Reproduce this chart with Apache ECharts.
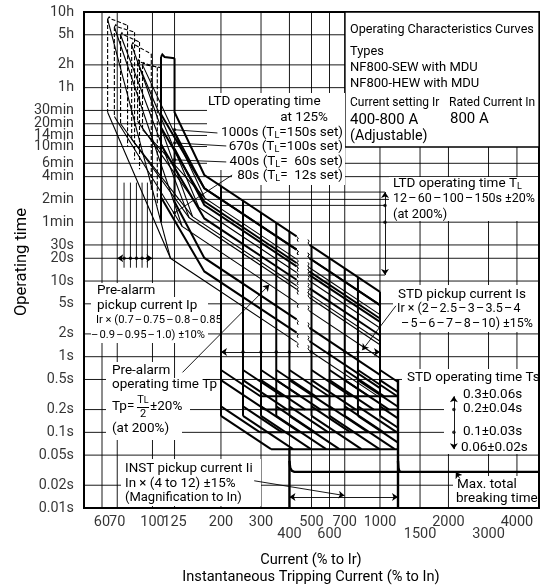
<!DOCTYPE html>
<html><head><meta charset="utf-8">
<script src="https://cdn.jsdelivr.net/npm/echarts@6.0.0/dist/echarts.min.js"></script>
<style>html,body{margin:0;padding:0;background:#fff}#c{width:545px;height:586px}</style>
</head><body><div id="c"></div>
<script>
// ---------- axis ticks ----------
const yTicks = [0.01,0.02,0.05,0.1,0.2,0.5,1,2,5,10,20,30,60,120,240,360,600,840,1200,1800,3600,7200,18000,36000];
const yTickLabels = ['0.01s','0.02s','0.05s','0.1s','0.2s','0.5s','1s','2s','5s','10s','20s','30s','1min','2min','4min','6min','10min','14min','20min','30min','1h','2h','5h','10h'];
const xTicks = [60,70,100,125,200,300,400,500,600,700,1000,1500,2000,3000,4000];
const xTickLabels = ['60','70','100','125','200','300','400','500','600','700','1000','1500','2000','3000','4000'];
const xTickRow = [0,0,0,0,0,0,1,0,1,0,0,1,0,1,0];

// ---------- LTD curves (current %, seconds) ----------
const ltdTL150max = [[[125,8800],[125,1700],[169,252],[430,38.9]],[[490,30.0],[1000,7.2]]];
const ltdTL150min = [[[109,9150],[109,1600],[169,168],[430,26.0]],[[490,20.0],[1000,4.8]]];
const ltdTL100max = [[[125,930],[169,168],[430,26.0]],[[490,20.0],[1000,4.8]]];
const ltdTL100min = [[[109,1070],[169,112],[430,17.3]],[[490,13.3],[1000,3.2]]];
const ltdTL60max  = [[[125,560],[169,101],[430,15.6]],[[490,12.0],[1000,2.88]]];
const ltdTL60min  = [[[109,640],[169,67.2],[430,10.4]],[[490,8.0],[1000,1.92]]];
const ltdTL12max  = [[[125,112],[169,20.2],[430,3.11]],[[490,2.40],[1000,0.576]]];
const ltdTL12min  = [[[109,128],[169,13.4],[430,2.08]],[[490,1.60],[1000,0.384]]];
const ltdVerticals = [[[109,9150],[109,60]],[[125,560],[125,112]]];
const ltdBoxTop = [[109,9150],[110.5,9900],[113,9150],[125,8800]];

// ---------- pre-alarm curves ----------
const preAlarm1 = [[[63.5,1700],[120,20.0],[430,1.557]],[[490,1.20],[1000,0.288]]];
const preAlarm2 = [[[68,1500],[135,52.7],[430,5.19]],[[490,4.0],[1000,0.96]]];
const preAlarm3 = [[[72.4,1200],[145,68.5],[430,7.79]],[[490,6.0],[1000,1.44]]];
const preAlarm4 = [[[81,750],[150,71.1],[430,8.65]],[[490,6.66],[1000,1.6]]];
const preAlarm5 = [[[86,1300],[160,93.8],[430,12.98]],[[490,10.0],[1000,2.4]]];
const preAlarm6 = [[[90.4,1000],[170,124.6],[430,19.47]],[[490,15.0],[1000,3.6]]];
const preAlarmTopLines = [
  [[63.5,29000],[120,20.0]], [[68,22800],[135,52.7]], [[72.4,17900],[145,68.5]],
  [[81,13200],[150,71.1]], [[86,7800],[160,93.8]], [[90.4,7200],[170,124.6]]
];
const preAlarmBoxTops = [
  [[63.5,29000],[64.5,31000],[66,29000],[77.7,24000]],
  [[68,22800],[69,24500],[70.5,22800],[83.4,19500]],
  [[72.4,17900],[73.4,19200],[75,17900],[87.7,14400]],
  [[81,13200],[82,14200],[84,13200],[98.8,10000]],
  [[86,7800],[87,8400],[89,7800],[105,6700]],
  [[90.4,7200],[91.5,7700],[93.5,7200],[109.5,6600]]
];
const preAlarmLeftX = [63.5,68,72.4,81,86,90.4];
const preAlarmLeftTop = [29000,22800,17900,13200,7800,7200];
const preAlarmLeftBottom = [1700,1500,1200,750,1300,1000];
const preAlarmRightX = [77.7,83.4,87.7,98.8,105,109.5];
const preAlarmRightTop = [24000,19500,14400,10000,6700,6600];
const preAlarmRightBottom = [600,400,300,150,100,60];
const preAlarmPickups = [70,75,80,85,90,95,100];

// ---------- STD ----------
const stdPickups = [200,250,300,350,400,500,600,700,800,1000];
const stdVerticalTop = [180,115,80,58.8,45,28.8,20,14.7,11.25,7.2];
const stdVerticalBottom = 0.165;
const stdRamps = [
  [200,.667,298,.3],[200,.49,313,.2],[200,.22,297,.1],[200,.165,332,.06],
  [250,.667,373,.3],[250,.49,391,.2],[250,.22,371,.1],[250,.165,415,.06],
  [300,.667,447,.3],[300,.49,470,.2],[300,.22,445,.1],[300,.165,497,.06],
  [350,.667,522,.3],[350,.49,548,.2],[350,.22,519,.1],[350,.165,580,.06],
  [400,.667,596,.3],[400,.49,626,.2],[400,.22,593,.1],[400,.165,663,.06],
  [500,.667,745,.3],[500,.49,783,.2],[500,.22,742,.1],[500,.165,829,.06],
  [600,.667,894,.3],[600,.49,939,.2],[600,.22,890,.1],[600,.165,995,.06],
  [700,.667,1043,.3],[700,.49,1096,.2],[700,.22,1038,.1],[700,.165,1161,.06],
  [800,.667,1192,.3],[800,.49,1200,.218],[800,.22,1187,.1],[800,.165,1200,.0733],
  [1000,.667,1200,.463],[1000,.49,1200,.34],[1000,.22,1200,.153],[1000,.165,1200,.115]
];
const stdLevelStart = [298,313,297,332];
const stdLevelTime = [0.3,0.2,0.1,0.06];
const stdRightEdge = 1200;

// ---------- INST ----------
const instLeft = [[400,0.062],[400,0.01]];
const instRight = [[1200,0.5],[1200,0.01]];
const maxBreaking = [[400,0.042],[403,0.034],[410,0.031],[420,0.03],[5000,0.03]];
const instRightCorner = [[1200,0.042],[1205,0.034],[1215,0.031],[1232,0.03]];

// ---------- annotation anchors ----------
const ltdDots = [[125,1000],[125,670],[125,400],[125,80]];
const ltdLeaderEnds = [[193,906],[211,610],[211,375],[224,252]];
const tlArrow = [[1052,150],[1052,12]];
const tlDots = [[1052,100],[1052,60]];
const tlRefLines = [[[200,150],[1052,150]],[[200,100],[1052,100]],[[200,12],[1052,12]]];
const preAlarmArrow = [[70,20],[100,20]];
const preAlarmDots = [[75,20],[80,20],[85,20],[90,20],[95,20]];
const preAlarmOpLeader = [[135.5,0.62],[326,8.9]];
const stdPickArrow = [[200,1.15],[1000,1.15]];
const stdPickLeader = [[1175,4.7],[836,1.22]];
const stdTimeArrow = [[2112,0.3],[2112,0.06]];
const stdTimeDots = [[2112,0.2],[2112,0.1]];
const instArrow = [[400,0.014],[1200,0.014]];
const instLeader = [[280,0.0229],[698,0.0146]];
const maxLeader = [[2244,0.0245],[2154,0.0298]];
const breakLeftI = 430, breakRightI = 490;

const FONT = 'Roboto, "Noto Sans", sans-serif';

function L(polys, width, z, extra) {
  return Object.assign({
    type: 'lines', coordinateSystem: 'cartesian2d', polyline: true, silent: true,
    animation: false, z: z,
    lineStyle: {color: '#000', width: width, opacity: 1, type: 'solid', curveness: 0},
    data: polys.map(c => ({coords: c}))
  }, extra || {});
}
function A(pairs, sym, z) {
  return {
    type: 'lines', coordinateSystem: 'cartesian2d', polyline: false, silent: true,
    animation: false, z: z || 16, symbol: sym, symbolSize: 6,
    lineStyle: {color: '#000', width: 0.9, opacity: 1, curveness: 0},
    data: pairs.map(c => ({coords: c}))
  };
}

const gridPolys = [];
yTicks.slice(1, -1).forEach(v => gridPolys.push([[50, v], [5000, v]]));
xTicks.forEach(v => gridPolys.push([[v, 0.01], [v, 36000]]));

const ltdSets = [ltdTL150max, ltdTL150min, ltdTL100max, ltdTL100min, ltdTL60max, ltdTL60min, ltdTL12max, ltdTL12min];
const paSets = [preAlarm1, preAlarm2, preAlarm3, preAlarm4, preAlarm5, preAlarm6];
const ltdPolys = [].concat(...ltdSets, ltdVerticals, [ltdBoxTop]);
const paPolys = [].concat(...paSets, preAlarmTopLines);
const paDashed = preAlarmBoxTops.slice();
preAlarmLeftX.forEach((x, i) => paDashed.push([[x, preAlarmLeftTop[i]], [x, preAlarmLeftBottom[i]]]));
preAlarmRightX.forEach((x, i) => paDashed.push([[x, preAlarmRightTop[i]], [x, preAlarmRightBottom[i]]]));
const paTicks = preAlarmPickups.slice(1, -1).map(x => [[x, 200], [x, 15]]);

// small break hooks at the curve gaps (decoration at the ends of the read curves)
const hookPolys = [];
ltdSets.concat(paSets).forEach(s => {
  const a = s[0][s[0].length - 1], b = s[1][0];
  hookPolys.push([[a[0], a[1]], [a[0] * 1.018, a[1] * 0.95], [a[0] * 1.006, a[1] * 0.9], [a[0] * 1.016, a[1] * 0.85]]);
  hookPolys.push([[b[0], b[1]], [b[0] * 0.985, b[1] * 1.06], [b[0] * 0.996, b[1] * 1.12], [b[0] * 0.984, b[1] * 1.18]]);
});

const stdPolys = [];
stdPickups.forEach((x, i) => stdPolys.push([[x, stdVerticalTop[i]], [x, stdVerticalBottom]]));
stdRamps.forEach(r => stdPolys.push([[r[0], r[1]], [r[2], r[3]]]));
stdLevelTime.forEach((t, i) => stdPolys.push([[stdLevelStart[i], t], [stdRightEdge, t]]));

const instPolys = [instLeft, instRight, maxBreaking, instRightCorner];
const leaderPolys = ltdDots.map((d, i) => [d, ltdLeaderEnds[i]]).concat(tlRefLines, paTicks);
const allDots = [].concat(ltdDots, tlDots, preAlarmDots, stdTimeDots,
  stdPickups.slice(1, -1).map(x => [x, 1.15]));

// ---------- graphic (texts / white boxes) ----------
const G = [];
function rect(x, y, w, h, stroke) {
  G.push({type: 'rect', z: 15, silent: true, shape: {x: x, y: y, width: w, height: h},
    style: {fill: '#fff', stroke: stroke ? '#000' : null, lineWidth: stroke ? 1.3 : 0}});
}
function txt(x, y, s, size, align, rich) {
  G.push({type: 'text', z: 20, silent: true, x: x, y: y,
    style: {text: s, fontSize: size, fontFamily: FONT, fill: '#000',
      align: align || 'left', verticalAlign: 'middle', rich: rich || {}}});
}
const SUB = {s: {fontSize: 9, fontFamily: FONT, verticalAlign: 'bottom'}};
const D = '\u200a\u2013\u200a';

rect(345, 12, 194, 135, true);
rect(207, 93, 138, 77); rect(232, 169, 113, 16);
rect(389, 177, 149, 44);
rect(93, 283, 66, 14); rect(91, 297, 117, 46);
rect(106, 362, 62, 16); rect(106, 378, 100, 14); rect(106, 392, 84, 28); rect(106, 420, 76, 20);
rect(121, 459, 140, 47);
rect(393, 285, 145, 47);
rect(402, 369, 136, 18); rect(444, 387, 94, 67);
rect(453, 476, 85, 31);

txt(350, 30, 'Operating Characteristics Curves', 12.6);
txt(350, 52, 'Types', 12.8);
txt(350, 68, 'NF800-SEW with MDU', 13);
txt(350, 84, 'NF800-HEW with MDU', 13);
txt(350, 103, 'Current setting Ir', 12);
txt(449, 103, 'Rated Current In', 12);
txt(350, 120, '400-800 A', 15);
txt(450, 119, '800 A', 15);
txt(350, 136, '(Adjustable)', 14.3);

txt(208, 102, 'LTD operating time', 13.5);
txt(328, 118, 'at 125%', 13.5, 'right');
txt(343, 133, '1000s (T{s|L}=150s set)', 13.5, 'right', SUB);
txt(343, 147, '670s (T{s|L}=100s set)', 13.5, 'right', SUB);
txt(343, 162, '400s (T{s|L}=  60s set)', 13.5, 'right', SUB);
txt(343, 176, '80s (T{s|L}=  12s set)', 13.5, 'right', SUB);

txt(393, 184, 'LTD operating time T{s|L}', 13.5, 'left', SUB);
txt(393, 199, '12' + D + '60' + D + '100' + D + '150s \u00b120%', 12.5);
txt(393, 215, '(at 200%)', 12.8);

txt(97, 291, 'Pre-alarm', 13.5);
txt(97, 306, 'pickup current Ip', 13.5);
txt(96, 320, 'Ir \u00d7 (0.7' + D + '0.75' + D + '0.8' + D + '0.85', 11.2);
txt(91, 335, '\u2013\u200a0.9' + D + '0.95' + D + '1.0) \u00b110%', 11.2);

txt(112, 371, 'Pre-alarm', 13.5);
txt(112, 385, 'operating time Tp', 13.5);
txt(112, 407, 'Tp=', 13.5);
txt(143, 400, 'T{s|L}', 11, 'center', SUB);
G.push({type: 'line', z: 20, silent: true, shape: {x1: 137, y1: 407.5, x2: 149, y2: 407.5}, style: {stroke: '#000', lineWidth: 1}});
txt(143, 414, '2', 11, 'center');
txt(150, 407, '\u00b120%', 13.5);
txt(112, 429, '(at 200%)', 13.5);

txt(125, 469, 'INST pickup current Ii', 13.4);
txt(125, 484, 'In \u00d7 (4 to 12) \u00b115%', 13.4);
txt(125, 498, '(Magnification to In)', 13);

txt(398, 295, 'STD pickup current Is', 13.5);
txt(397, 309, 'Ir \u00d7 (2' + D + '2.5' + D + '3' + D + '3.5' + D + '4', 12.5);
txt(401, 324, '\u2013\u200a5' + D + '6' + D + '7' + D + '8' + D + '10) \u00b115%', 12.5);

txt(407, 378, 'STD operating time Ts', 13.5);
txt(463, 395, '0.3\u00b10.06s', 13.5);
txt(463, 409, '0.2\u00b10.04s', 13.5);
txt(463, 432, '0.1\u00b10.03s', 13.5);
txt(461, 448, '0.06\u00b10.02s', 13.5);

txt(457, 485, 'Max. total', 13.5);
txt(456, 499, 'breaking time', 13.5);

G.push({type: 'text', z: 20, silent: true, x: 22, y: 262, rotation: Math.PI / 2,
  style: {text: 'Operating time', fontSize: 16.5, fontFamily: FONT, fill: '#000', align: 'center', verticalAlign: 'middle'}});
txt(311, 560, 'Current (% to Ir)', 14.6, 'center');
txt(311, 577, 'Instantaneous Tripping Current (% to In)', 14.6, 'center');

const chart = echarts.init(document.getElementById('c'), null, {renderer: 'canvas'});
chart.setOption({
  animation: false,
  backgroundColor: '#fff',
  grid: {left: 84, right: 6, top: 12, bottom: 78, show: true, borderColor: '#000', borderWidth: 2, backgroundColor: 'transparent'},
  xAxis: {type: 'log', logBase: 10, min: 50, max: 5000, axisLine: {show: false}, axisTick: {show: false}, axisLabel: {show: false}, splitLine: {show: false}},
  yAxis: {type: 'log', logBase: 10, min: 0.01, max: 36000, axisLine: {show: false}, axisTick: {show: false}, axisLabel: {show: false}, splitLine: {show: false}},
  series: [
    L(gridPolys, 0.9, 1),
    L(ltdPolys, 2, 3),
    L(paPolys, 1.1, 3),
    L(hookPolys, 1, 3),
    L(paDashed, 1.1, 3, {lineStyle: {color: '#000', width: 1.1, opacity: 1, type: [4, 2]}}),
    L(stdPolys, 2, 3),
    L(instPolys, 2.4, 3),
    L(leaderPolys, 0.9, 16),
    A([preAlarmArrow, tlArrow, stdPickArrow, stdTimeArrow, instArrow], ['arrow', 'arrow']),
    A([preAlarmOpLeader, stdPickLeader, instLeader, maxLeader], ['none', 'arrow']),
    {type: 'scatter', z: 17, silent: true, clip: false, symbolSize: 3.5, itemStyle: {color: '#000'}, data: allDots},
    {type: 'scatter', z: 20, silent: true, clip: false, symbolSize: 0,
      label: {show: true, position: 'left', distance: 10, formatter: '{b}', color: '#000', fontSize: 14.3, fontFamily: FONT},
      data: yTicks.map((v, i) => ({name: yTickLabels[i], value: [50, v]}))},
    {type: 'scatter', z: 20, silent: true, clip: false, symbolSize: 0,
      label: {show: true, position: 'bottom', formatter: '{b}', color: '#000', fontSize: 14.5, fontFamily: FONT},
      data: xTicks.map((v, i) => ({name: xTickLabels[i], value: [v, 0.01], label: {distance: xTickRow[i] ? 19 : 7}}))}
  ],
  graphic: {elements: G}
});
</script></body></html>
